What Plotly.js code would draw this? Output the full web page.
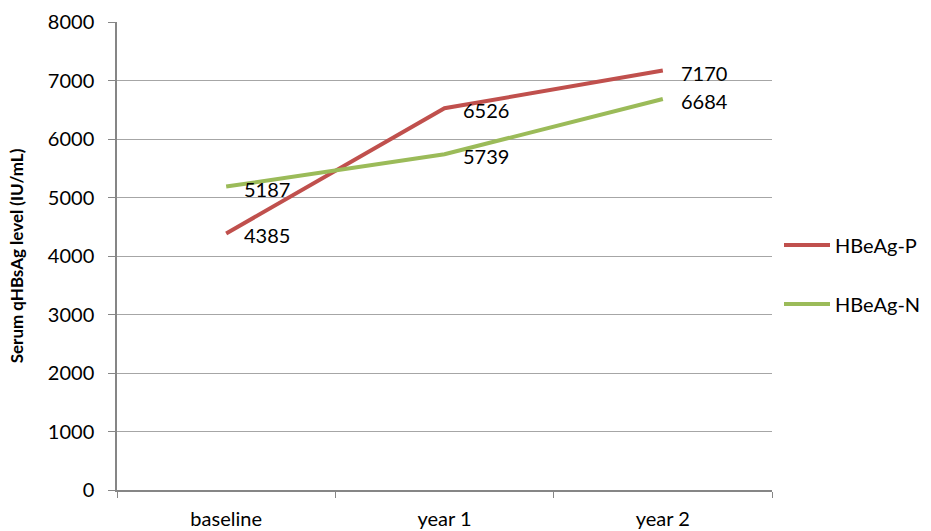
<!DOCTYPE html>
<html><head><meta charset="utf-8">
<script src="https://cdn.plot.ly/plotly-3.0.1.min.js"></script>
<style>body{margin:0;background:#fff}#c{width:931px;height:531px}</style>
</head><body><div id="c"></div>
<script>
const categories = ["baseline", "year 1", "year 2"];
const hbeagP = [4385, 6526, 7170];
const hbeagN = [5187, 5739, 6684];
const seriesNames = ["HBeAg-P", "HBeAg-N"];
const yTicks = [0, 1000, 2000, 3000, 4000, 5000, 6000, 7000, 8000];

const font = "Lato, 'Open Sans', sans-serif";
const red = "#C0504D", green = "#9BBB59";

const traces = [
  {x: categories, y: hbeagP, name: seriesNames[0], mode: "lines", type: "scatter",
   line: {color: red, width: 4}, legend: "legend"},
  {x: categories, y: hbeagN, name: seriesNames[1], mode: "lines", type: "scatter",
   line: {color: green, width: 4}, legend: "legend2"}
];

const annotations = [];
[hbeagP, hbeagN].forEach(arr => {
  arr.forEach((v, i) => {
    annotations.push({x: categories[i], y: v, text: String(v), showarrow: false,
      xanchor: "left", yanchor: "middle", xshift: 16, yshift: -2,
      font: {family: font, size: 20, color: "#000"}});
  });
});

const legX = 779 / 931;
const layout = {
  width: 931, height: 531,
  margin: {l: 117, r: 159, t: 22, b: 41},
  paper_bgcolor: "#fff", plot_bgcolor: "#fff",
  font: {family: font, size: 20, color: "#000"},
  xaxis: {type: "category", range: [-0.5, 2.5], tickson: "boundaries",
    ticks: "outside", ticklen: 6, tickcolor: "#868686", tickwidth: 1,
    showline: true, linecolor: "#868686", linewidth: 1.5, showgrid: false,
    tickfont: {family: font, size: 20}, zeroline: false, ticklabelstandoff: 10},
  yaxis: {range: [0, 8000], tickvals: yTicks, ticks: "outside", ticklen: 7,
    tickcolor: "#868686", showline: true, linecolor: "#868686", linewidth: 1.5,
    gridcolor: "#A6A6A6", gridwidth: 1, zeroline: false, ticklabelstandoff: 10,
    tickfont: {family: font, size: 20},
    title: {text: "<b>Serum qHBsAg level (IU/mL)</b>", font: {family: font, size: 17}, standoff: 20}},
  showlegend: true,
  legend: {x: legX, xref: "container", xanchor: "left", itemwidth: 46, font: {family: font, size: 20}},
  legend2: {x: legX, xref: "container", xanchor: "left", itemwidth: 46, font: {family: font, size: 20}},
  annotations: annotations
};
const ph = 531 - 22 - 41;
layout.legend.y = 1 - (245 - 22) / ph; layout.legend.yanchor = "middle";
layout.legend2.y = 1 - (304 - 22) / ph; layout.legend2.yanchor = "middle";
Plotly.newPlot("c", traces, layout, {displayModeBar: false});
</script></body></html>
